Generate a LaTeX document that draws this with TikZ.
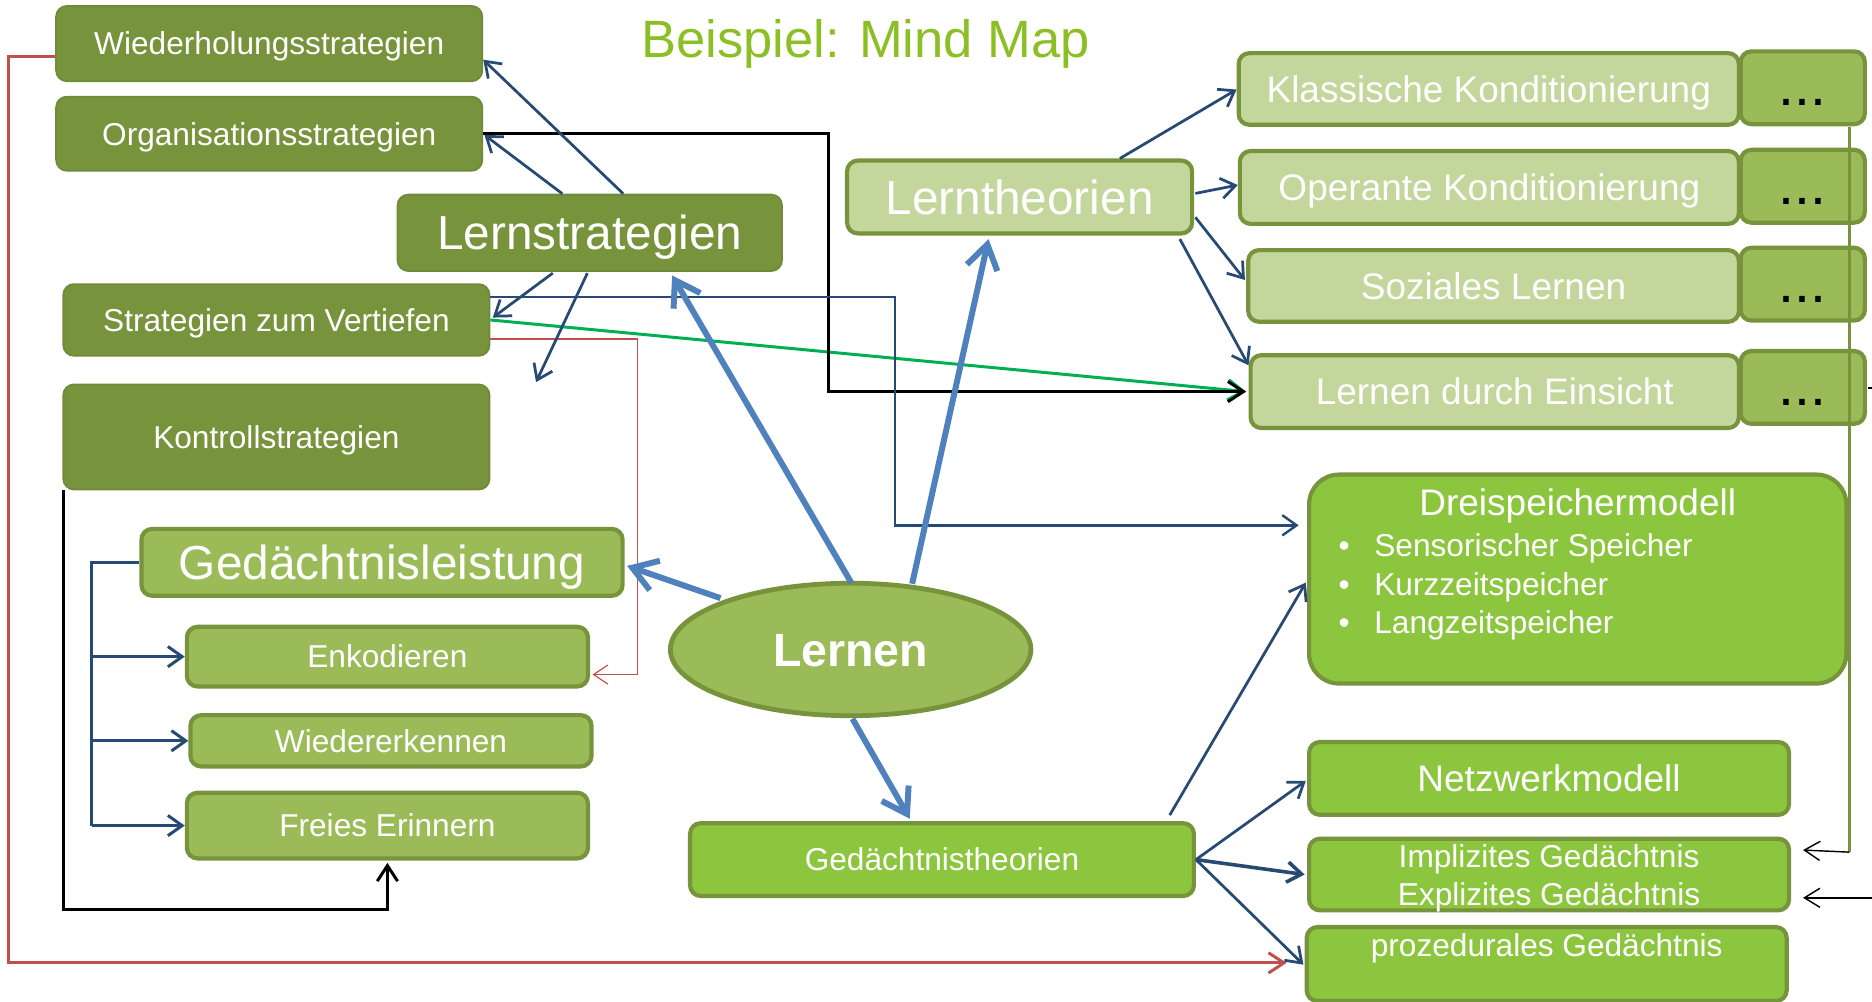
\documentclass[tikz,border=0pt]{standalone}
\usepackage{fontspec}
\setmainfont{Liberation Sans}
\usetikzlibrary{arrows.meta,calc,shapes.geometric}

\definecolor{olivedark}{HTML}{77933C}
\definecolor{oliveline}{HTML}{6F8A3A}
\definecolor{olivemid}{HTML}{9BBB59}
\definecolor{olivelight}{HTML}{C3D69B}
\definecolor{limegreen}{HTML}{8CC63F}
\definecolor{titlegreen}{HTML}{8CBF26}
\definecolor{navy}{HTML}{264A73}
\definecolor{accentblue}{HTML}{4F81BD}
\definecolor{accentred}{HTML}{C0504D}
\definecolor{linkgreen}{HTML}{00B050}

\newcommand\szS{\fontsize{26.5}{32}\selectfont}
\newcommand\szM{\fontsize{31}{37}\selectfont}
\newcommand\szL{\fontsize{40}{48}\selectfont}

\begin{document}
\begin{tikzpicture}[x=1pt,y=-1pt,
  caption/.style={inner sep=0pt, text=white, text depth=0pt},
  fS/.style={font=\szS, text height=19pt},
  fM/.style={font=\szM, text height=22.2pt},
  fL/.style={font=\szL, text height=28.6pt},
  box/.style={rectangle, rounded corners=9pt, caption, fS},
  darkbox/.style={box, fill=olivedark, draw=oliveline, line width=1.5pt},
  midbox/.style={box, fill=olivemid, draw=olivedark, line width=3.5pt},
  lightbox/.style={box, fill=olivelight, draw=olivedark, line width=3.5pt, fM},
  dotbox/.style={box, fill=olivemid, draw=olivedark, line width=3.5pt, text=black,
                 font=\fontsize{48}{48}\selectfont, text height=30pt,
                 minimum width=104, minimum height=61},
  limebox/.style={box, fill=limegreen, draw=olivedark, line width=3.5pt},
  link/.style={draw=navy, line width=2.3pt, -{Straight Barb[length=12pt,width=17pt]}},
  mainlink/.style={draw=accentblue, line width=5pt, -{Straight Barb[length=20pt,width=26pt]}},
  blacklink/.style={draw=black, line width=2.5pt, -{Straight Barb[length=13pt,width=17pt]}},
  finelink/.style={draw=black, line width=1.2pt, -{Straight Barb[length=13pt,width=16pt]}},
]
\useasboundingbox (0,0) rectangle (1568,839);

% title
\node[caption, text=titlegreen, font=\fontsize{44}{50}\selectfont, text height=31.5pt] (title) at (725,32) {Beispiel: Mind Map};

% learning strategies
\node[darkbox, minimum width=357, minimum height=63] (wied) at (225.5,36.5) {Wiederholungsstrategien};
\node[darkbox, minimum width=357, minimum height=62] (org) at (225.5,112) {Organisationsstrategien};
\node[darkbox, minimum width=322, minimum height=64, fL] (ls) at (494,195) {Lernstrategien};
\node[darkbox, minimum width=357, minimum height=60] (szv) at (231.5,268) {Strategien zum Vertiefen};
\node[darkbox, minimum width=357, minimum height=88] (ks) at (231.5,366) {Kontrollstrategien};

% memory performance
\node[midbox, minimum width=403, minimum height=56, fL] (gl) at (320,471) {Gedächtnisleistung};
\node[midbox, minimum width=336, minimum height=50] (enk) at (324.5,550) {Enkodieren};
\node[midbox, minimum width=336, minimum height=43] (wie) at (327.5,620.5) {Wiedererkennen};
\node[midbox, minimum width=336, minimum height=55] (fe) at (324.5,691.5) {Freies Erinnern};

% centre
\node[ellipse, fill=olivemid, draw=olivedark, line width=4pt, minimum width=302, minimum height=111,
      caption, font=\bfseries\fontsize{39}{47}\selectfont, text height=28pt] (lernen) at (712.5,544) {Lernen};

% learning theories
\node[lightbox, fL, minimum width=289, minimum height=61] (lt) at (854,165) {Lerntheorien};
\node[lightbox, minimum width=419, minimum height=60] (kk) at (1247,74.5) {Klassische Konditionierung};
\node[lightbox, minimum width=418, minimum height=61] (ok) at (1247.5,157) {Operante Konditionierung};
\node[lightbox, minimum width=411, minimum height=60] (sl) at (1251,239.5) {Soziales Lernen};
\node[lightbox, minimum width=409, minimum height=61] (lde) at (1252,328) {Lernen durch Einsicht};
\node[dotbox] (dots1) at (1510,73.5) {...};
\node[dotbox] (dots2) at (1510,156) {...};
\node[dotbox] (dots3) at (1510,238) {...};
\node[dotbox] (dots4) at (1510,324.5) {...};

% memory theories
\node[limebox, minimum width=422, minimum height=61] (gt) at (789,720) {Gedächtnistheorien};
\node[limebox, rounded corners=25pt, minimum width=450, minimum height=175] (drei) at (1321.5,485) {};
\node[caption, fM] (dreititle) at (1321.5,421) {Dreispeichermodell};
\node[caption, fS, anchor=west] (sp1) at (1121,457) {\makebox[30pt][l]{•}Sensorischer Speicher};
\node[caption, fS, anchor=west] (sp2) at (1121,489) {\makebox[30pt][l]{•}Kurzzeitspeicher};
\node[caption, fS, anchor=west] (sp3) at (1121,521) {\makebox[30pt][l]{•}Langzeitspeicher};
\node[limebox, fM, minimum width=402, minimum height=61] (netz) at (1297.5,652) {Netzwerkmodell};
\node[limebox, minimum width=402, minimum height=60] (impl) at (1297.5,732.5) {};
\node[caption, font=\szS, text height=, text depth=, align=center]
     (impltext) at (1297.5,736) {Implizites Gedächtnis\\Explizites Gedächtnis};
\node[limebox, minimum width=402, minimum height=62] (proz) at (1295.5,807.5) {};
\node[caption, fS] (proztext) at (1295.5,792) {prozedurales Gedächtnis};

% links between branches
\draw[draw=linkgreen, line width=2.5pt, -{Straight Barb[length=13pt,width=17pt]}]
  (szv.east) -- ($(lde.west)+(-2,0)$);
\draw[blacklink] (org.east) -- ++(289,0) |- ($(lde.west)+(-2,0)$);
\draw[link, line width=2pt] ($(szv.east)+(0,-19)$) -- ++(339,0) |- ($(drei.west)+(-7,-45)$);
\draw[draw=accentred, line width=1pt, -{Straight Barb[length=12pt,width=16pt]}]
  ($(szv.east)+(0,16)$) -- ++(123,0) |- ($(enk.east)+(2,15)$);
\draw[draw=accentred, line width=2.5pt, -{Straight Barb[length=13pt,width=17pt]}]
  ($(wied.west)+(0,10.5)$) -- ++(-39,0) |- ($(proz.west)+(-15,-1)$);
\draw[blacklink] ($(ks.south west)+(1,0)$) -- ++(0,351) -| ($(fe.south)+(0,2)$);

% Lernstrategien branches
\draw[link] ($(ls.north)+(28,0)$) -- ($(wied.east)+(0,13.5)$);
\draw[link] ($(ls.north)+(-23,0)$) -- ($(org.east)+(1,1)$);
\draw[link] ($(ls.south)+(-31,1)$) -- ($(szv.east)+(2,-2)$);
\coordinate (loose) at (449,320);
\draw[link] ($(ls.south)+(-2,1)$) -- (loose);

% Gedächtnisleistung bracket
\draw[draw=navy, line width=2.5pt] (gl.west) -- ++(-40,0) coordinate (fork) -- (fork |- fe.west);
\draw[link, line width=2.5pt] (fork |- enk.west) -- (enk.west);
\draw[link, line width=2.5pt] (fork |- wie.west) -- (wie.west);
\draw[link, line width=2.5pt] (fork |- fe.west) -- (fe.west);

% from the centre
\draw[mainlink] ($(lernen.center)+(0.5,-56)$) -- ($(ls.south)+(69,3)$);
\draw[mainlink] ($(lernen.center)+(51.5,-55)$) -- ($(lt.south)+(-26,3)$);
\draw[mainlink] ($(lernen.center)+(-109,-43)$) -- ($(gl.east)+(2,3)$);
\draw[mainlink] ($(lernen.center)+(1.5,58)$) -- ($(gt.north)+(-27,-2)$);

% Lerntheorien branches
\draw[link] ($(lt.north)+(84,0)$) -- ($(kk.west)+(0,0.5)$);
\draw[link] ($(lt.east)+(1,-3)$) -- ($(ok.west)+(0,-2)$);
\draw[link] ($(lt.east)+(1,17)$) -- ($(sl.west)+(-1,-5)$);
\draw[link] ($(lt.south east)+(-12,3)$) -- ($(lde.west)+(0,-22)$);

% Gedächtnistheorien branches
\draw[link] ($(gt.north east)+(-22,-5)$) -- ($(drei.west)+(-1,3)$);
\draw[link] (gt.east) -- ($(netz.west)+(-1,2)$);
\draw[link, line width=3pt] (gt.east) -- ($(impl.west)+(-2,0)$);
\draw[link] (gt.east) -- ($(proz.west)+(-1,0.5)$);

% right-hand feedback lines
\draw[draw=olivedark, line width=2pt] ($(dots1.south)+(39,1)$) -- ++(0,607) coordinate (bend);
\draw[finelink] (bend) -- ($(impl.east)+(10,-20.5)$);
\coordinate (edgeA) at (1568,752);
\draw[finelink] (edgeA) -- ($(impl.east)+(10,19.5)$);
\coordinate (edgeB) at (1568,325);
\draw[draw=black, line width=1.5pt] ($(dots4.east)+(1,0.5)$) -- (edgeB);
\end{tikzpicture}
\end{document}
